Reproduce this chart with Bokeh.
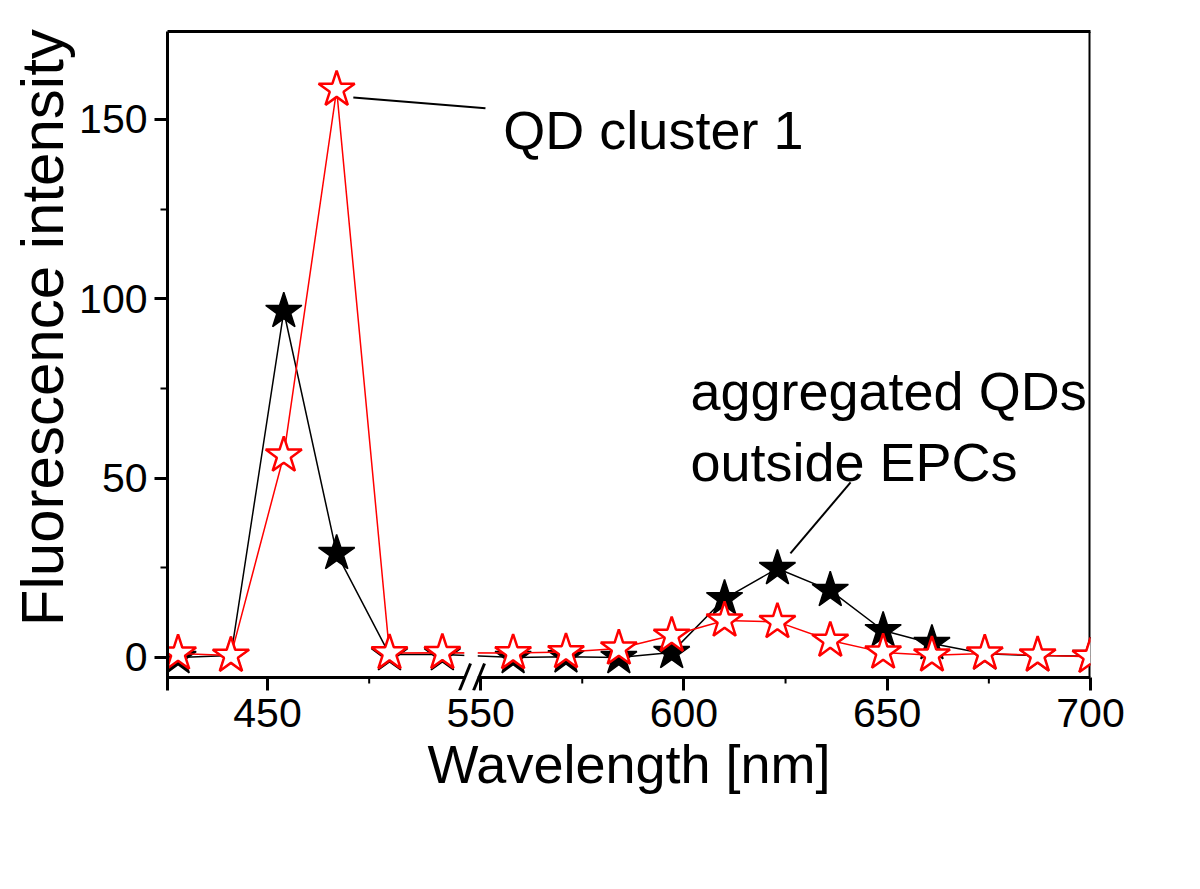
from bokeh.plotting import figure
from bokeh.models import Range1d, FixedTicker, LinearAxis, Label, ColumnDataSource
from bokeh.embed import file_html
from bokeh.resources import INLINE

# ---- data ----
wavelength = [428, 441, 454, 467, 480, 493, 558, 571, 584, 597, 610, 623, 636, 649, 661, 674, 687, 700]
aggregated_black = [0.0, 0.5, 96.5, 29.0, 0.8, 0.8, 0.0, 0.2, 0.0, 1.4, 16.4, 24.8, 18.7, 7.5, 3.9, 1.0, 0.5, 0.3]
cluster_red = [1.1, 0.5, 56.3, 158.3, 1.2, 1.3, 1.2, 1.5, 2.5, 6.1, 10.3, 9.9, 4.7, 1.4, 0.6, 1.1, 0.6, 0.2]
x_major_ticks = [450, 550, 600, 650, 700]
x_minor_ticks = [475, 575, 625, 675]
y_major_ticks = [0, 50, 100, 150]
y_minor_ticks = [25, 75, 125]

# broken x axis: wavelengths above the break are shifted left by GAP
BREAK_LO, BREAK_HI = 498.7, 546.3
GAP = BREAK_HI - BREAK_LO


def dx(w):
    return w if w <= BREAK_LO else w - GAP


FRAME_W = 923
X0, X1 = 425.4, dx(700)
Y_AX = -5.6            # level of the drawn x axis line
Y1 = 174.5
PX_Y = (Y1 - Y_AX) / 646.0   # data units per pixel (vertical)
PX_X = (X1 - X0) / FRAME_W   # data units per pixel (horizontal)
Y0 = Y_AX - 13 * PX_Y        # frame extends below the axis line to hold the break marks

FONT = "Liberation Sans"

p = figure(width=1184, height=873, output_backend="svg", toolbar_location=None,
           x_range=Range1d(X0, X1), y_range=Range1d(Y0, Y1),
           min_border_left=167, min_border_right=94, min_border_top=31, min_border_bottom=183)
p.outline_line_color = None
p.grid.visible = False
p.background_fill_color = "white"
p.border_fill_color = "white"

# axes
xa = p.xaxis[0]
xa.ticker = FixedTicker(ticks=[dx(t) for t in x_major_ticks])
xa.major_label_overrides = {dx(t): str(t) for t in x_major_ticks}
xa.axis_line_color = None
xa.major_tick_in = 13
xa.major_tick_out = 0
xa.minor_tick_line_color = None
ya = p.yaxis[0]
ya.ticker = FixedTicker(ticks=y_major_ticks, minor_ticks=y_minor_ticks)
ya.axis_line_width = 3
ya.axis_line_color = "black"
ya.major_tick_in = 0
ya.minor_tick_in = 0
ya.major_tick_out = 13
ya.minor_tick_out = 7
for ax in (xa, ya):
    ax.major_tick_line_width = 3
    ax.minor_tick_line_width = 2
    ax.major_label_text_font = FONT
    ax.major_label_text_font_size = "41px"
    ax.major_label_text_color = "black"
    ax.axis_label_text_font = FONT
    ax.axis_label_text_font_style = "normal"
    ax.axis_label_text_color = "black"
xa.major_label_standoff = 8
xa.axis_label = "Wavelength [nm]"
xa.axis_label_text_font_size = "54px"
xa.axis_label_standoff = 4
ya.major_label_standoff = 7
# non-breaking spaces lift the centred title, as in the reference
ya.axis_label = "\u00a0\u00a0\u00a0\u00a0Fluorescence intensity"
ya.axis_label_text_font_size = "60px"
ya.axis_label_standoff = 0

top_ax = LinearAxis(ticker=FixedTicker(ticks=[]), axis_line_width=3, major_label_text_font_size="0px",
                    major_tick_line_color=None, minor_tick_line_color=None)
p.add_layout(top_ax, "above")

# drawn frame parts: bottom axis line (broken), minor x ticks, right border
bx = dx(BREAK_LO)
p.segment(x0=[X0, bx + 3.0], y0=[Y_AX, Y_AX], x1=[bx, X1], y1=[Y_AX, Y_AX], line_color="black", line_width=3)
p.segment(x0=[dx(t) for t in x_minor_ticks], y0=[Y_AX] * len(x_minor_ticks),
          x1=[dx(t) for t in x_minor_ticks], y1=[Y_AX - 6 * PX_Y] * len(x_minor_ticks),
          line_color="black", line_width=2)
p.segment(x0=[X1], y0=[Y_AX], x1=[X1], y1=[Y1], line_color="black", line_width=4)

src = ColumnDataSource(dict(x=[dx(w) for w in wavelength], black=aggregated_black, red=cluster_red))

p.line("x", "black", source=src, line_color="black", line_width=1.5)
p.scatter("x", "black", source=src, marker="star", size=38, fill_color="black", line_color="black", line_width=1.5)
p.line("x", "red", source=src, line_color="red", line_width=1.5)
# gap in the data lines at the axis break
p.quad(left=[bx - 0.3], right=[bx + 3.0], bottom=[Y_AX + 1], top=[7], fill_color="white", line_color=None)
p.scatter("x", "red", source=src, marker="star", size=38, fill_color="white", line_color="red", line_width=2.5)

# axis break marks
for off in (-6, 8):
    p.segment(x0=[bx + off * PX_X], y0=[Y_AX - 13 * PX_Y], x1=[bx + (off + 11) * PX_X], y1=[Y_AX + 14 * PX_Y],
              line_color="black", line_width=3)

# annotations
p.segment(x0=[471.1], y0=[156.1], x1=[503.6], y1=[153.1], line_color="black", line_width=2)
p.add_layout(Label(x=508.0, y=146.9, text="QD cluster 1", text_font=FONT, text_font_size="54px",
                   text_baseline="middle", text_color="black"))
p.segment(x0=[dx(641.0)], y0=[48.8], x1=[dx(626.2)], y1=[29.0], line_color="black", line_width=2)
p.add_layout(Label(x=dx(601.6), y=74.4, text="aggregated QDs", text_font=FONT, text_font_size="54px",
                   text_baseline="middle", text_color="black"))
p.add_layout(Label(x=dx(601.6), y=54.4, text="outside EPCs", text_font=FONT, text_font_size="54px",
                   text_baseline="middle", text_color="black"))

open("out.html", "w").write(file_html(p, INLINE))
